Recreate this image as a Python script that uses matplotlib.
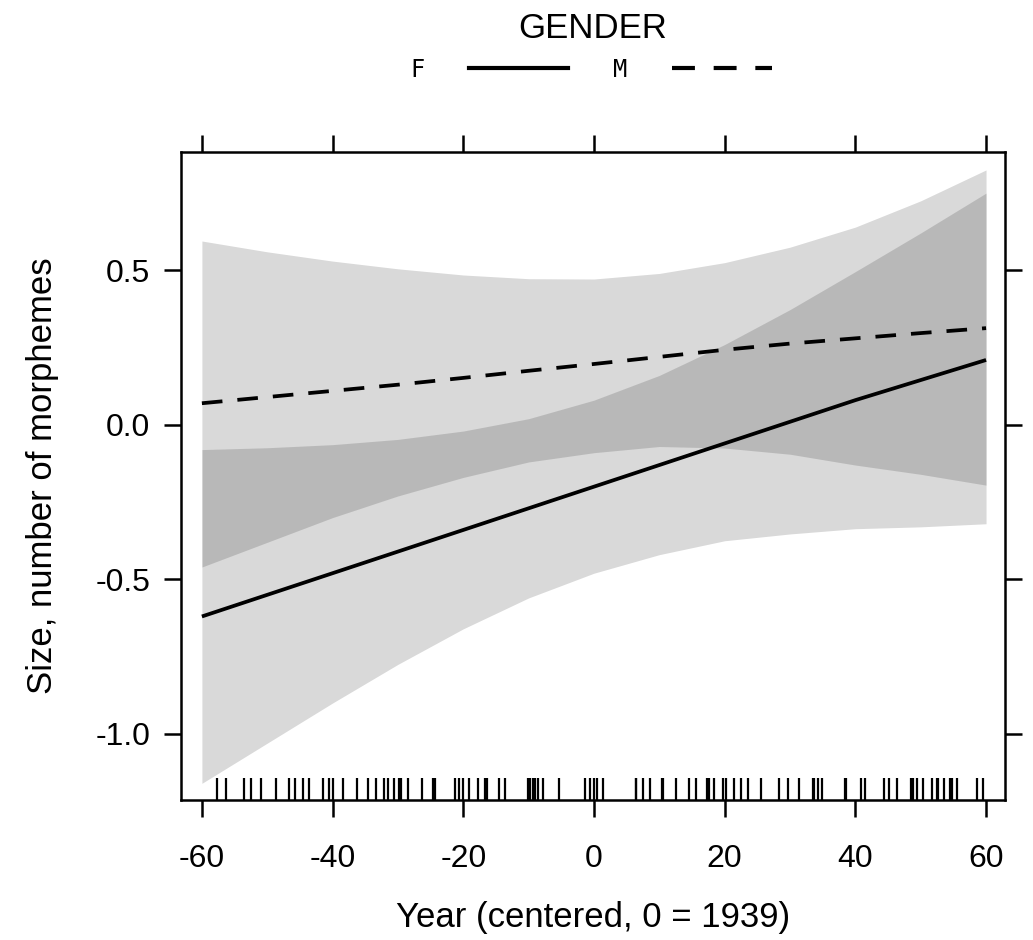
import matplotlib
matplotlib.use("Agg")
import matplotlib.pyplot as plt
from matplotlib.lines import Line2D
import numpy as np

plt.rcParams['font.family'] = ['Liberation Sans', 'DejaVu Sans']

# effect estimates, every 10 years
years = [-60, -50, -40, -30, -20, -10, 0, 10, 20, 30, 40, 50, 60]
fit_f = [-0.62, -0.55, -0.48, -0.41, -0.34, -0.27, -0.20, -0.13, -0.06, 0.01, 0.08, 0.145, 0.21]
lower_f = [-1.16, -1.03, -0.90, -0.775, -0.66, -0.56, -0.48, -0.42, -0.375, -0.353, -0.336, -0.33, -0.32]
upper_f = [-0.08, -0.074, -0.064, -0.047, -0.02, 0.02, 0.08, 0.16, 0.26, 0.373, 0.496, 0.621, 0.75]
fit_m = [0.07, 0.09, 0.11, 0.13, 0.152, 0.175, 0.197, 0.22, 0.243, 0.263, 0.28, 0.297, 0.313]
lower_m = [-0.46, -0.38, -0.30, -0.23, -0.17, -0.12, -0.09, -0.07, -0.075, -0.095, -0.13, -0.16, -0.195]
upper_m = [0.595, 0.56, 0.53, 0.505, 0.485, 0.473, 0.472, 0.49, 0.525, 0.575, 0.64, 0.725, 0.825]

# observed years (rug)
rug_years = [-57.7, -56.3, -53.6, -52.5, -50.9, -48.7, -46.7, -45.7, -44.6, -43.6,
             -41.5, -40.5, -39.9, -38.4, -36.3, -34.6, -33.3, -32.1, -31.5, -30.6,
             -29.8, -29.5, -28.4, -26.3, -24.6, -24.3, -21.2, -20.6, -20.1, -19.2,
             -17.8, -16.7, -16.4, -14.6, -13.6, -10.1, -9.8, -9.4, -9.1, -8.5,
             -7.8, -5.4, -1.3, -0.6, 0.0, 0.5, 1.4, 6.4, 6.5, 7.5, 8.6, 10.4, 10.6,
             12.6, 14.6, 15.6, 17.3, 17.6, 18.4, 19.8, 20.2, 21.4, 22.5, 23.5, 25.6,
             28.3, 29.7, 31.4, 33.5, 33.7, 34.3, 34.9, 38.4, 38.6, 40.8, 41.5, 44.4,
             45.2, 46.3, 48.5, 48.8, 49.5, 50.4, 51.7, 52.5, 52.7, 53.5, 54.5, 54.8,
             55.5, 58.6, 59.6]

x_ticks = [-60, -40, -20, 0, 20, 40, 60]
y_ticks = [-1.0, -0.5, 0.0, 0.5]

fig = plt.figure(figsize=(10.33, 9.4), dpi=100)
ax = fig.add_axes([0.1752, 0.1489, 0.7977, 0.6894])

ax.fill_between(years, lower_f, upper_f, color='black', alpha=0.15, linewidth=0)
ax.fill_between(years, lower_m, upper_m, color='black', alpha=0.15, linewidth=0)
ax.plot(years, fit_f, color='black', linewidth=2.7, solid_capstyle='butt')
ax.plot(years, fit_m, color='black', linewidth=2.7, linestyle=(0, (5.5, 4)))

ax.vlines(rug_years, 0, 0.034, transform=ax.get_xaxis_transform(),
          color='black', linewidth=1.6)

ax.set_xlim(-63.2, 62.9)
ax.set_ylim(-1.214, 0.883)
ax.set_xticks(x_ticks)
ax.set_xticklabels([str(v) for v in x_ticks])
ax.set_yticks(y_ticks)
ax.set_yticklabels(['-1.0', '-0.5', '0.0', '0.5'])
ax.tick_params(axis='both', direction='out', length=12, width=1.8,
               labelsize=23, top=True, right=True, labeltop=False, labelright=False)
ax.tick_params(axis='x', pad=20)
ax.tick_params(axis='y', pad=10)
for s in ax.spines.values():
    s.set_linewidth(1.8)

ax.set_xlabel('Year (centered, 0 = 1939)', fontsize=25, labelpad=19)
ax.set_ylabel('Size, number of morphemes', fontsize=25, labelpad=26)

fig.text(0.574, 0.97, 'GENDER', fontsize=25, ha='center', va='center')
handles = [Line2D([], [], color='black', linewidth=3),
           Line2D([], [], color='black', linewidth=3, linestyle=(0, (5.5, 4.5)))]
leg = fig.legend(handles, ['F', 'M'], ncol=2, markerfirst=False, frameon=False,
                 loc='center', bbox_to_anchor=(0.572, 0.926), handlelength=4.2,
                 handletextpad=1.9, columnspacing=1.9,
                 prop={'family': 'DejaVu Sans Mono', 'size': 17})

fig.savefig('out.png', dpi=100)
